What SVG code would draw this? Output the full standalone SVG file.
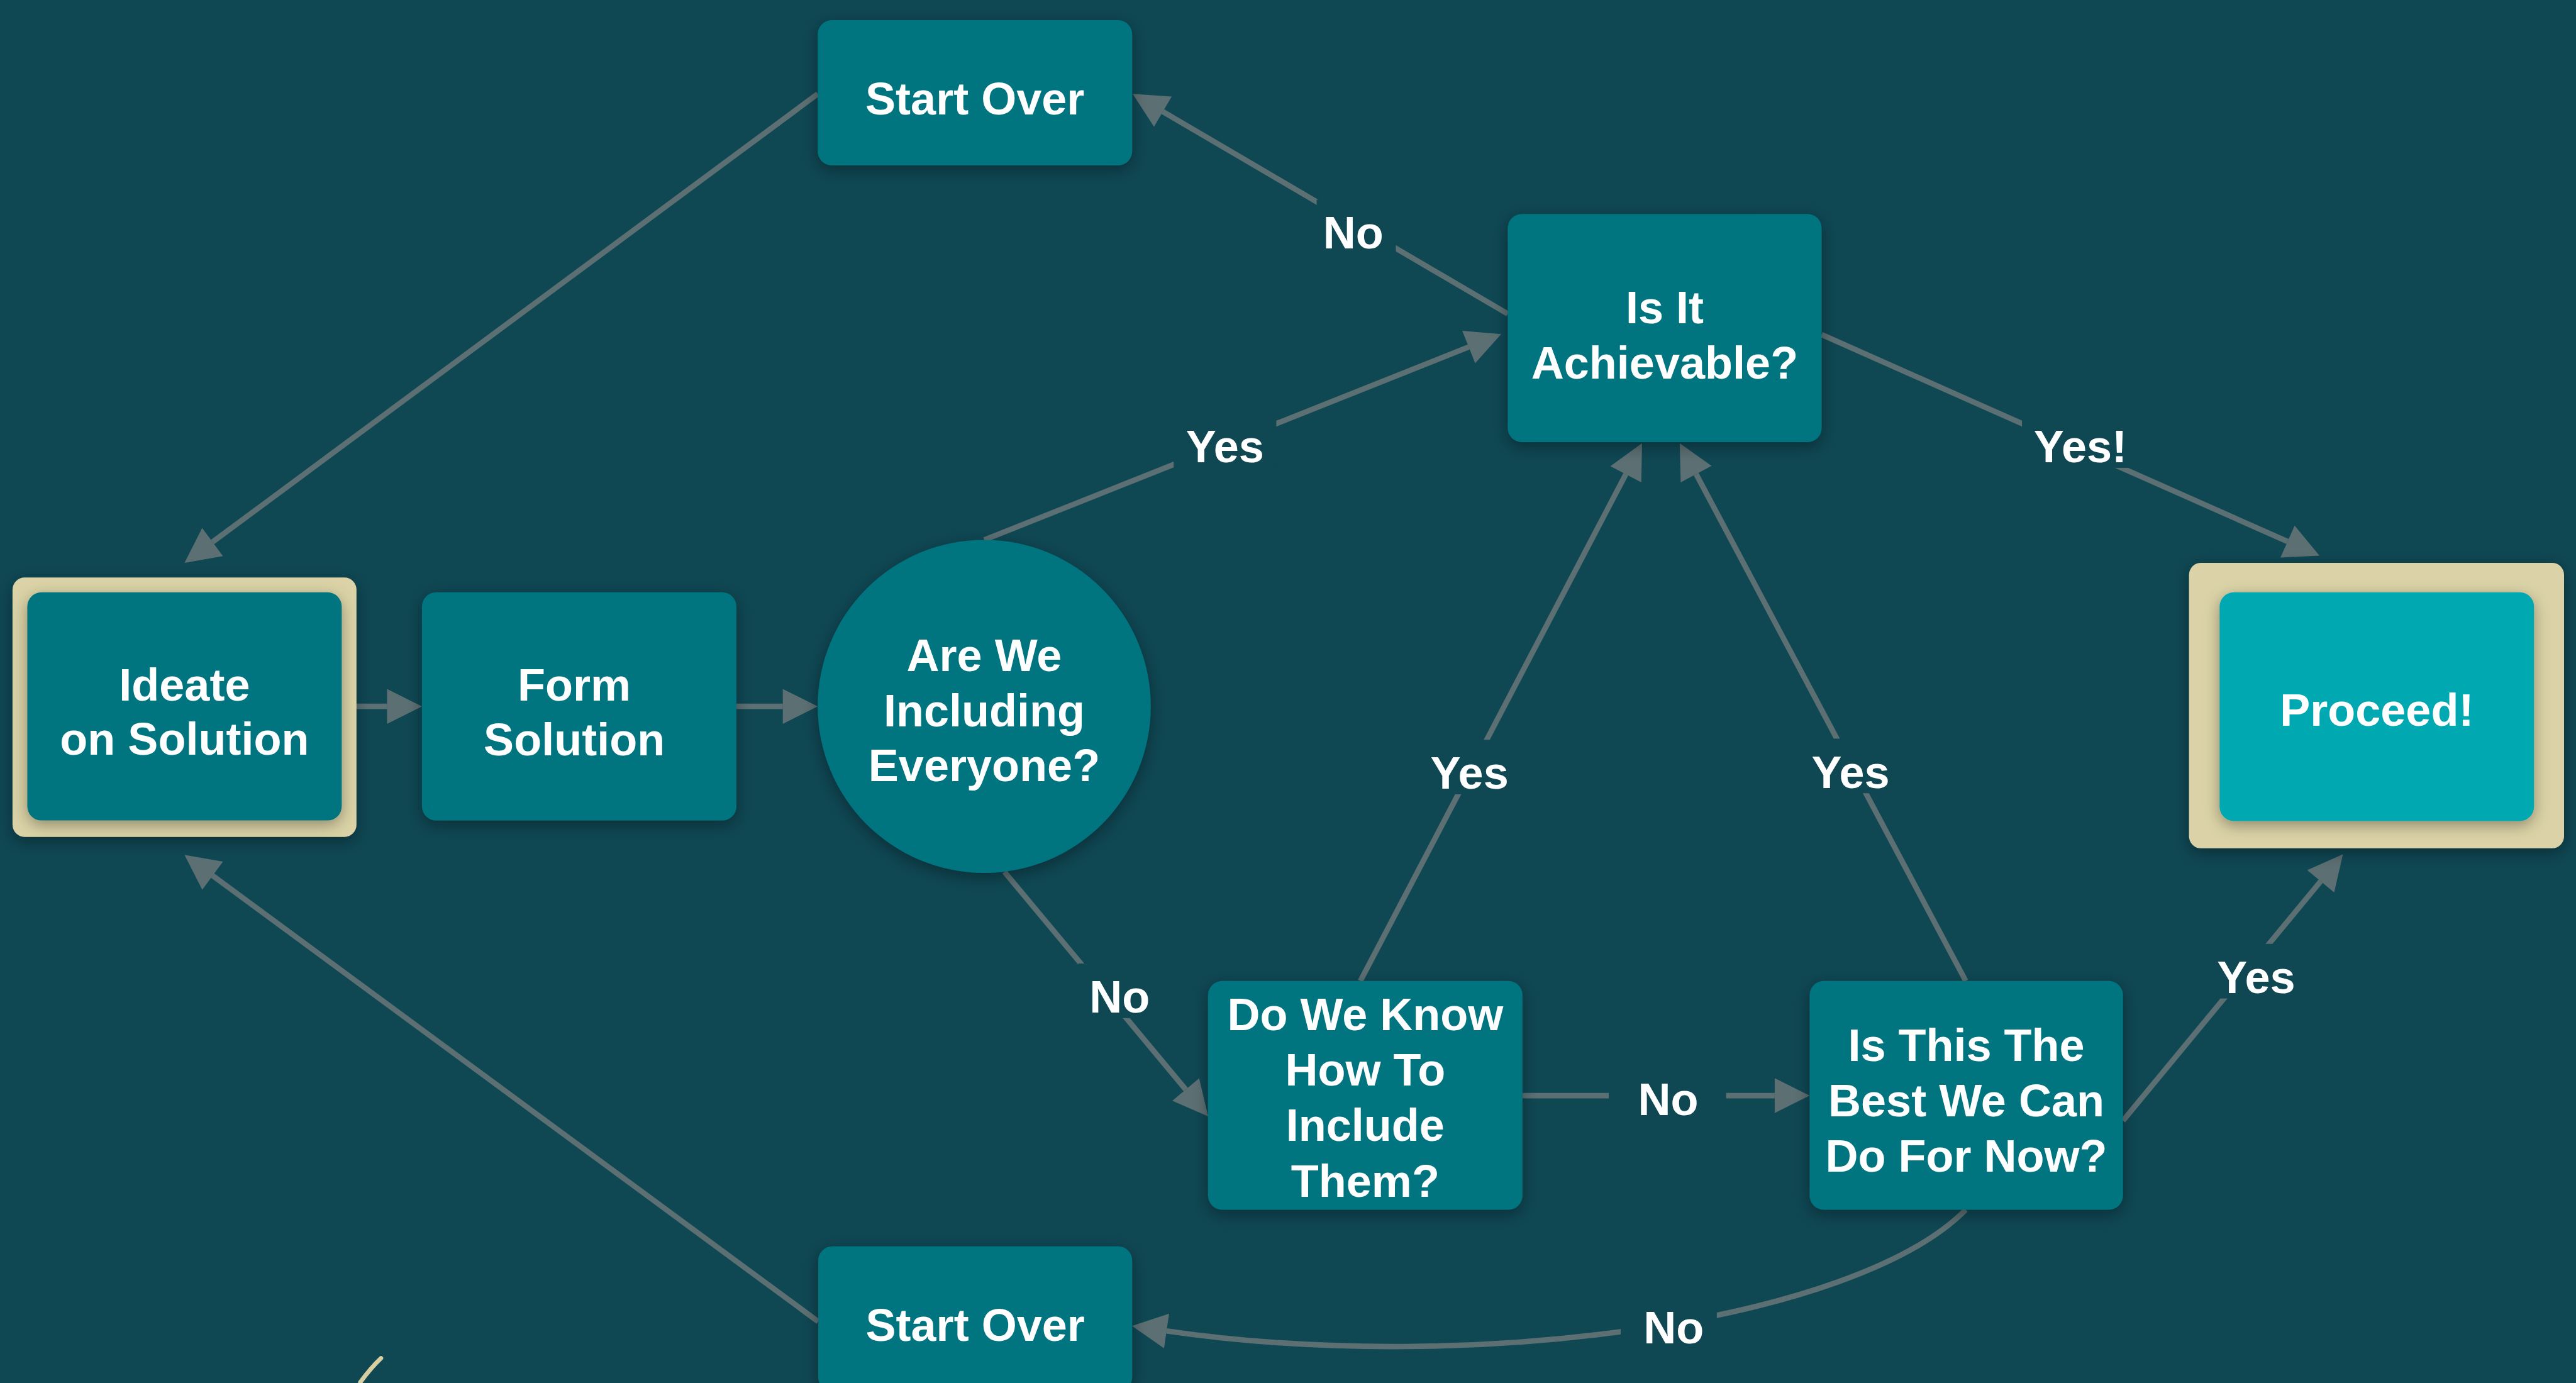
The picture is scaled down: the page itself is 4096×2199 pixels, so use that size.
<svg xmlns="http://www.w3.org/2000/svg" width="4096" height="2199" viewBox="0 0 4096 2199">
<defs>
<style>
.bg{fill:#0f4753}
.node{fill:#017580}
.tan{fill:#dbd3a7}
.go{fill:#00a9b1}
.t{font-family:"Liberation Sans",Arial,sans-serif;font-weight:bold;font-size:83px;fill:#ffffff;text-anchor:middle}
.conn{fill:none;stroke:#828282;stroke-opacity:0.68;stroke-width:10}
.lbg{fill:#0f4753}
</style>
<marker id="arrow" viewBox="0 -32 64 64" markerWidth="64" markerHeight="64" refX="0" refY="0" orient="auto" markerUnits="userSpaceOnUse" overflow="visible">
<path d="M0,-32 L64,0 L0,32 Z" fill="#828282" fill-opacity="0.68"/>
</marker>
<filter id="sh" x="-20%" y="-20%" width="140%" height="140%">
<feDropShadow dx="0" dy="8" stdDeviation="14" flood-color="#000000" flood-opacity="0.35"/>
</filter>
</defs>
<rect class="bg" x="0" y="0" width="4096" height="2199"/>
<g transform="scale(0.868)">
<g id="connectors">
<line class="conn" x1="1498" y1="172" x2="389.4" y2="992.9" marker-end="url(#arrow)"/>
<line class="conn" x1="2762" y1="575" x2="2130.2" y2="204.4" marker-end="url(#arrow)"/>
<line class="conn" x1="1803" y1="989" x2="2690.5" y2="635.7" marker-end="url(#arrow)"/>
<line class="conn" x1="3337" y1="613" x2="4190.5" y2="992" marker-end="url(#arrow)"/>
<line class="conn" x1="626" y1="1294" x2="709" y2="1294" marker-end="url(#arrow)"/>
<line class="conn" x1="1349" y1="1294" x2="1434" y2="1294" marker-end="url(#arrow)"/>
<line class="conn" x1="1840" y1="1597" x2="2172.1" y2="1995.8" marker-end="url(#arrow)"/>
<line class="conn" x1="2492" y1="1797" x2="2978.3" y2="868.7" marker-end="url(#arrow)"/>
<line class="conn" x1="3601" y1="1797" x2="3107.1" y2="868.5" marker-end="url(#arrow)"/>
<line class="conn" x1="2789" y1="2007" x2="3251" y2="2007" marker-end="url(#arrow)"/>
<line class="conn" x1="3889" y1="2053" x2="4251.2" y2="1614.3" marker-end="url(#arrow)"/>
<path class="conn" d="M3601,2216 C3400,2420 2700,2520 2137,2438" marker-end="url(#arrow)"/>
<line class="conn" x1="1499" y1="2421" x2="389.5" y2="1604" marker-end="url(#arrow)"/>
<g id="labels">
<rect class="lbg" x="2412" y="366" width="145" height="97"/>
<text class="t" x="2479" y="455">No</text>
<rect class="lbg" x="2150" y="757" width="188" height="100"/>
<text class="t" x="2244" y="847">Yes</text>
<rect class="lbg" x="3704" y="757" width="215" height="100"/>
<text class="t" x="3811" y="847">Yes!</text>
<rect class="lbg" x="1975" y="1765" width="153" height="100"/>
<text class="t" x="2051" y="1855">No</text>
<rect class="lbg" x="2598" y="1355" width="188" height="100"/>
<text class="t" x="2692" y="1445">Yes</text>
<rect class="lbg" x="3296" y="1353" width="188" height="100"/>
<text class="t" x="3390" y="1443">Yes</text>
<rect class="lbg" x="2947" y="1953" width="215" height="100"/>
<text class="t" x="3056" y="2043">No</text>
<rect class="lbg" x="4039" y="1729" width="188" height="100"/>
<text class="t" x="4133" y="1819">Yes</text>
<rect class="lbg" x="2969" y="2371" width="176" height="100"/>
<text class="t" x="3066" y="2461">No</text>
</g>
</g>
<g id="ideate">
<rect class="tan" x="23" y="1058" width="630" height="475" rx="22" filter="url(#sh)"/>
<rect class="node" x="50" y="1085" width="576" height="418" rx="26" filter="url(#sh)"/>
<text class="t" x="338" y="1283">Ideate</text>
<text class="t" x="338" y="1383">on Solution</text>
</g>
<g id="form-solution">
<rect class="node" x="773" y="1085" width="576" height="418" rx="26" filter="url(#sh)"/>
<text class="t" x="1052" y="1283">Form</text>
<text class="t" x="1052" y="1384">Solution</text>
</g>
<g id="including-everyone">
<circle class="node" cx="1803" cy="1294" r="305" filter="url(#sh)"/>
<text class="t" x="1803" y="1229">Are We</text>
<text class="t" x="1803" y="1331">Including</text>
<text class="t" x="1803" y="1431">Everyone?</text>
</g>
<g id="start-over-top">
<rect class="node" x="1498" y="37" width="576" height="266" rx="26" filter="url(#sh)"/>
<text class="t" x="1786" y="210">Start Over</text>
</g>
<g id="achievable">
<rect class="node" x="2762" y="392" width="575" height="418" rx="26" filter="url(#sh)"/>
<text class="t" x="3049.5" y="592">Is It</text>
<text class="t" x="3049.5" y="693">Achievable?</text>
</g>
<g id="know-how">
<rect class="node" x="2213" y="1797" width="576" height="419" rx="26" filter="url(#sh)"/>
<text class="t" x="2501" y="1887">Do We Know</text>
<text class="t" x="2501" y="1989">How To</text>
<text class="t" x="2501" y="2090">Include</text>
<text class="t" x="2501" y="2192">Them?</text>
</g>
<g id="best-for-now">
<rect class="node" x="3315" y="1797" width="574" height="419" rx="26" filter="url(#sh)"/>
<text class="t" x="3602" y="1944">Is This The</text>
<text class="t" x="3602" y="2045">Best We Can</text>
<text class="t" x="3602" y="2146">Do For Now?</text>
</g>
<g id="proceed">
<rect class="tan" x="4010" y="1031" width="687" height="523" rx="22" filter="url(#sh)"/>
<rect class="go" x="4066" y="1085" width="576" height="419" rx="26" filter="url(#sh)"/>
<text class="t" x="4354" y="1330">Proceed!</text>
</g>
<g id="start-over-bottom">
<rect class="node" x="1499" y="2283" width="575" height="266" rx="26" filter="url(#sh)"/>
<text class="t" x="1786.5" y="2456">Start Over</text>
</g>
<path d="M660,2532 Q680,2505 698,2488" fill="none" stroke="#d8cfa0" stroke-width="8" stroke-linecap="round"/>
</g>
</svg>
